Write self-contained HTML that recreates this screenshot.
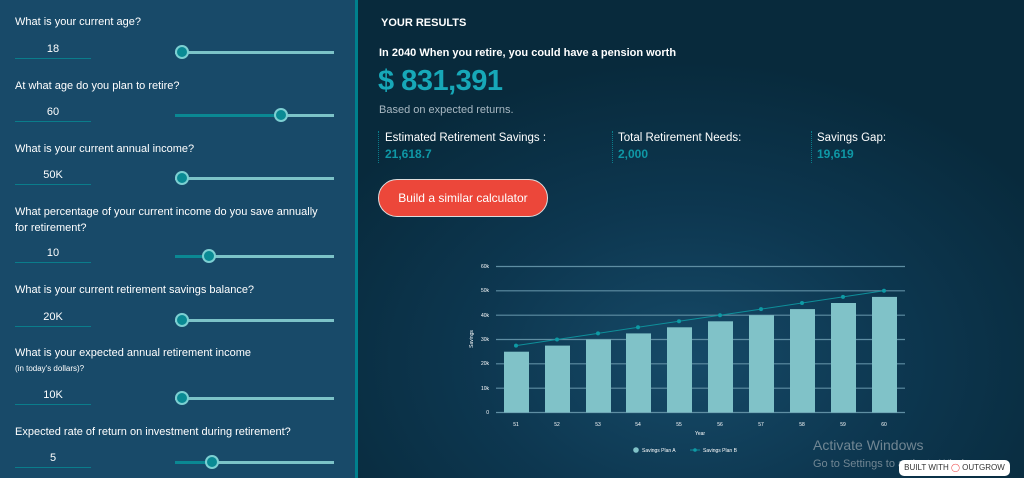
<!DOCTYPE html>
<html><head><meta charset="utf-8"><style>
*{margin:0;padding:0;box-sizing:border-box}
body{width:1024px;height:478px;overflow:hidden;font-family:"Liberation Sans",sans-serif;position:relative;background:#0a2b3e}
#left{position:absolute;left:0;top:0;width:355px;height:478px;background:#184a69}
#div{position:absolute;left:355px;top:0;width:3px;height:478px;background:#00808d}
#right{position:absolute;left:358px;top:0;width:666px;height:478px;background:radial-gradient(ellipse 420px 300px at 330px 360px,#164a68 0%,#0d3750 50%,#082a3c 100%)}
.lab{position:absolute;left:15px;color:#fff;font-size:11px}
.val{position:absolute;left:15px;width:76px;text-align:center;color:#fff;font-size:11px;border-bottom:1px solid #0a7d8b;padding-bottom:3px}
.trk{position:absolute;left:175px;width:159px;height:3px;background:#7cc3c8}
.fill{position:absolute;left:0;top:0;height:3px;background:#0a8893}
.th{position:absolute;top:-6px;width:14px;height:14px;border-radius:50%;background:#0a8a94;border:2px solid #7ccfd2;margin-left:-7px}
.t{position:absolute;color:#fff}
</style></head><body>
<div id="left">
<div class="lab" style="top:16px">What is your current age?</div>
<div class="val" style="top:43px">18</div>
<div class="trk" style="top:51px"><div class="th" style="left:7px"></div></div>

<div class="lab" style="top:80px">At what age do you plan to retire?</div>
<div class="val" style="top:106px">60</div>
<div class="trk" style="top:114px"><div class="fill" style="width:106px"></div><div class="th" style="left:106px"></div></div>

<div class="lab" style="top:143px">What is your current annual income?</div>
<div class="val" style="top:169px">50K</div>
<div class="trk" style="top:177px"><div class="th" style="left:7px"></div></div>

<div class="lab" style="top:206px">What percentage of your current income do you save annually</div>
<div class="lab" style="top:222px">for retirement?</div>
<div class="val" style="top:247px">10</div>
<div class="trk" style="top:255px"><div class="fill" style="width:34px"></div><div class="th" style="left:34px"></div></div>

<div class="lab" style="top:284px">What is your current retirement savings balance?</div>
<div class="val" style="top:311px">20K</div>
<div class="trk" style="top:319px"><div class="th" style="left:7px"></div></div>

<div class="lab" style="top:347px">What is your expected annual retirement income</div>
<div class="lab" style="top:364px;font-size:8px">(in today's dollars)?</div>
<div class="val" style="top:389px">10K</div>
<div class="trk" style="top:397px"><div class="th" style="left:7px"></div></div>

<div class="lab" style="top:426px">Expected rate of return on investment during retirement?</div>
<div class="val" style="top:452px">5</div>
<div class="trk" style="top:461px"><div class="fill" style="width:37px"></div><div class="th" style="left:37px"></div></div>
</div>
<div id="div"></div>
<div id="right"></div>

<div class="t" style="left:381px;top:17px;font-size:11px;font-weight:bold">YOUR RESULTS</div>
<div class="t" style="left:379px;top:47px;font-size:11px;font-weight:bold">In 2040 When you retire, you could have a pension worth</div>
<div class="t" style="left:378px;top:65px;font-size:29px;color:#17a8b8;font-weight:bold;letter-spacing:-0.5px">$ 831,391</div>
<div class="t" style="left:379px;top:104px;font-size:11px;color:#a8b8c2">Based on expected returns.</div>
<div style="position:absolute;left:378px;top:131px;height:32px;border-left:1px dotted #0a7d8b"></div>
<div style="position:absolute;left:612px;top:131px;height:32px;border-left:1px dotted #0a7d8b"></div>
<div style="position:absolute;left:811px;top:131px;height:32px;border-left:1px dotted #0a7d8b"></div>
<div class="t" style="left:385px;top:132px;font-size:11.5px">Estimated Retirement Savings :</div>
<div class="t" style="left:385px;top:147px;font-size:12px;color:#0f98a6;font-weight:bold">21,618.7</div>
<div class="t" style="left:618px;top:132px;font-size:11.5px">Total Retirement Needs:</div>
<div class="t" style="left:618px;top:147px;font-size:12px;color:#0f98a6;font-weight:bold">2,000</div>
<div class="t" style="left:817px;top:132px;font-size:11.5px">Savings Gap:</div>
<div class="t" style="left:817px;top:147px;font-size:12px;color:#0f98a6;font-weight:bold">19,619</div>
<div style="position:absolute;left:378px;top:179px;width:170px;height:38px;border-radius:19px;background:#ec473a;border:1px solid #ddd;color:#fff;font-size:12px;text-align:center;line-height:36px">Build a similar calculator</div>

<svg style="position:absolute;left:0;top:0" width="1024" height="478" font-family="Liberation Sans" font-size="5" fill="#fff">
<g stroke="#5f8ea3" stroke-width="1.2">
<line x1="496" x2="905" y1="266.5" y2="266.5"/><line x1="496" x2="905" y1="290.8" y2="290.8"/><line x1="496" x2="905" y1="315.2" y2="315.2"/><line x1="496" x2="905" y1="339.5" y2="339.5"/><line x1="496" x2="905" y1="363.8" y2="363.8"/><line x1="496" x2="905" y1="388.2" y2="388.2"/><line x1="496" x2="905" y1="412.5" y2="412.5"/>
</g>
<g text-anchor="end"><text x="489" y="268">60k</text><text x="489" y="292">50k</text><text x="489" y="317">40k</text><text x="489" y="341">30k</text><text x="489" y="365">20k</text><text x="489" y="390">10k</text><text x="489" y="414">0</text></g>
<text transform="translate(473,339) rotate(-90)" text-anchor="middle">Savings</text>
<g fill="#80c2c8">
<rect x="504" y="351.7" width="25" height="60.8"/><rect x="545" y="345.6" width="25" height="66.9"/><rect x="586" y="339.5" width="25" height="73"/><rect x="626" y="333.4" width="25" height="79.1"/><rect x="667" y="327.3" width="25" height="85.2"/><rect x="708" y="321.3" width="25" height="91.2"/><rect x="749" y="315.2" width="25" height="97.3"/><rect x="790" y="309.1" width="25" height="103.4"/><rect x="831" y="303" width="25" height="109.5"/><rect x="872" y="296.9" width="25" height="115.6"/>
</g>
<polyline fill="none" stroke="#0e8f9a" stroke-width="1" points="516,345.6 557,339.5 598,333.4 638,327.3 679,321.3 720,315.2 761,309.1 802,303 843,296.9 884,290.8"/>
<g fill="#0e9aa5"><circle cx="516" cy="345.6" r="2"/><circle cx="557" cy="339.5" r="2"/><circle cx="598" cy="333.4" r="2"/><circle cx="638" cy="327.3" r="2"/><circle cx="679" cy="321.3" r="2"/><circle cx="720" cy="315.2" r="2"/><circle cx="761" cy="309.1" r="2"/><circle cx="802" cy="303" r="2"/><circle cx="843" cy="296.9" r="2"/><circle cx="884" cy="290.8" r="2"/></g>
<g text-anchor="middle"><text x="516" y="426">51</text><text x="557" y="426">52</text><text x="598" y="426">53</text><text x="638" y="426">54</text><text x="679" y="426">55</text><text x="720" y="426">56</text><text x="761" y="426">57</text><text x="802" y="426">58</text><text x="843" y="426">59</text><text x="884" y="426">60</text>
<text x="700" y="435">Year</text></g>
<circle cx="636" cy="450" r="2.8" fill="#80c2c8"/><text x="642" y="452">Savings Plan A</text>
<line x1="690" x2="700" y1="450" y2="450" stroke="#0e8f9a"/><circle cx="695" cy="450" r="1.8" fill="#0e9aa5"/><text x="703" y="452">Savings Plan B</text>
<text x="813" y="450" font-size="14" fill="#8a9aa4" fill-opacity="0.8">Activate Windows</text>
<text x="813" y="467" font-size="11" fill="#8a9aa4" fill-opacity="0.8">Go to Settings to activate Windows.</text>
</svg>
<div style="position:absolute;left:899px;top:460px;width:111px;height:16px;background:#fff;border-radius:5px;font-size:8px;color:#333;line-height:16px;text-align:center">BUILT WITH <span style="color:#e44">&#9711;</span> OUTGROW</div>
</body></html>
